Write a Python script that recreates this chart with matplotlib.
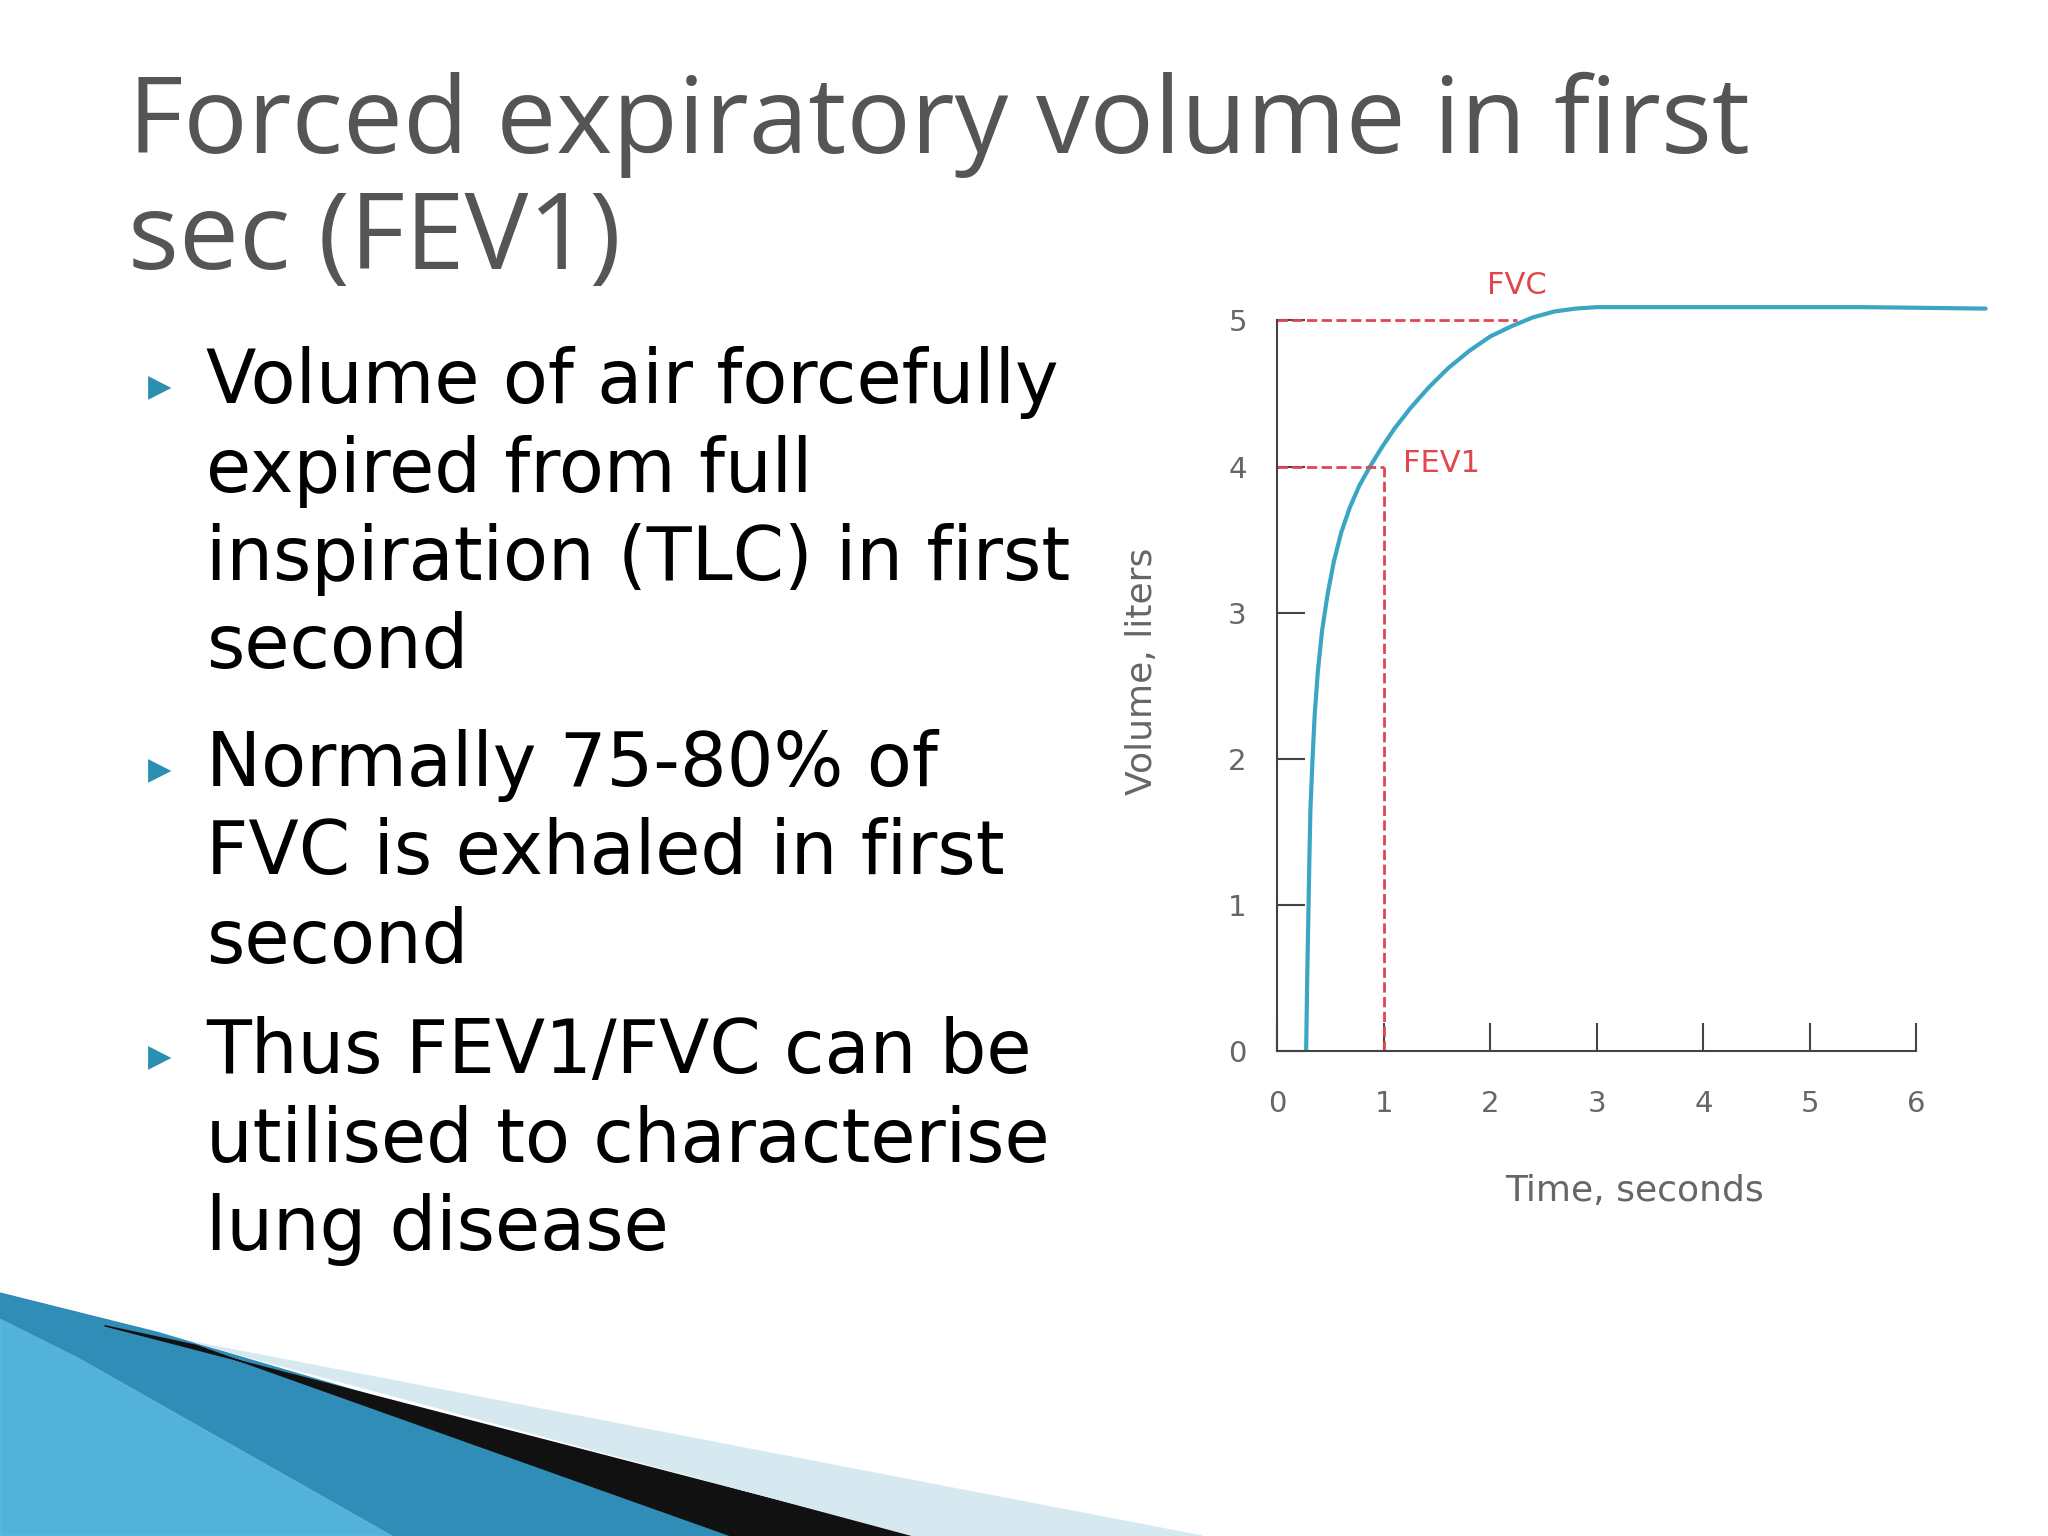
import matplotlib
matplotlib.use("Agg")
import matplotlib.pyplot as plt
from matplotlib.patches import Polygon

# spirometry curve
time_s = [0.27, 0.28, 0.29, 0.30, 0.31, 0.33, 0.35, 0.38, 0.42, 0.47, 0.53, 0.60, 0.68, 0.77, 0.87, 0.98,
          1.10, 1.25, 1.42, 1.60, 1.80, 2.00, 2.20, 2.40, 2.60, 2.80, 3.00, 3.5, 4.5, 5.5, 6.65]
volume_l = [0.0, 0.5, 0.9, 1.3, 1.65, 2.0, 2.3, 2.6, 2.88, 3.12, 3.35, 3.55, 3.72, 3.87, 4.0, 4.13,
            4.26, 4.4, 4.54, 4.67, 4.79, 4.89, 4.96, 5.02, 5.06, 5.08, 5.09, 5.09, 5.09, 5.09, 5.08]
fev1_t, fev1_v = 1.0, 4.0
fvc_t, fvc_v = 2.25, 5.0
x_ticks = [0, 1, 2, 3, 4, 5, 6]
y_ticks = [0, 1, 2, 3, 4, 5]

title = "Forced expiratory volume in first\nsec (FEV1)"
bullets = [
    "Volume of air forcefully\nexpired from full\ninspiration (TLC) in first\nsecond",
    "Normally 75-80% of\nFVC is exhaled in first\nsecond",
    "Thus FEV1/FVC can be\nutilised to characterise\nlung disease",
]
bullet_top = [265, 558, 778]

W, H = 1568, 1176
fig = plt.figure(figsize=(20.48, 15.36), dpi=100)

# decorative swoosh bottom-left
bg = fig.add_axes([0, 0, 1, 1], zorder=0)
bg.set_xlim(0, W); bg.set_ylim(H, 0); bg.axis("off")
bg.add_patch(Polygon([(0, 990), (120, 1020), (650, 1176), (0, 1176)], color="#2f8db8"))
bg.add_patch(Polygon([(0, 1010), (60, 1040), (300, 1176), (0, 1176)], color="#5bbce0", alpha=0.8))
bg.add_patch(Polygon([(80, 1015), (700, 1176), (560, 1176), (150, 1030)], color="#111111"))
bg.add_patch(Polygon([(150, 1028), (920, 1176), (700, 1176)], color="#d6e8f0"))

fig.text(98 / W, 1 - 140 / H, title, fontsize=77, color="#555555", family="Open Sans",
         va="center", ha="left", linespacing=1.12)
for txt, top in zip(bullets, bullet_top):
    fig.text(158 / W, 1 - top / H, txt, fontsize=53, color="black", family="DejaVu Sans",
             va="top", ha="left", linespacing=1.27)
    fig.text(113 / W, 1 - (top + 32) / H, "\u25B6", fontsize=22, color="#2a8fb0", va="center", ha="left")

ax = fig.add_axes([978 / W, 1 - 805 / H, 0.312 * 6.7 / 6, 0.476 * 5.2 / 5])
ax.set_xlim(0, 6.7)
ax.set_ylim(0, 5.2)
ax.plot(time_s, volume_l, color="#3aa6c4", lw=3, solid_capstyle="round")
red = "#e0474c"
ax.plot([0, fvc_t], [fvc_v, fvc_v], ls="--", color=red, lw=2)
ax.plot([0, fev1_t], [fev1_v, fev1_v], ls="--", color=red, lw=2)
ax.plot([fev1_t, fev1_t], [0, fev1_v], ls="--", color=red, lw=2)
ax.text(fvc_t, fvc_v + 0.14, "FVC", color=red, fontsize=22, ha="center", va="bottom")
ax.text(fev1_t + 0.18, fev1_v + 0.02, "FEV1", color=red, fontsize=22, ha="left", va="center")

for s in ["top", "right"]:
    ax.spines[s].set_visible(False)
ax.spines["left"].set_bounds(0, 5)
ax.spines["bottom"].set_bounds(0, 6)
for s in ["left", "bottom"]:
    ax.spines[s].set_color("#444444")
    ax.spines[s].set_linewidth(1.5)
ax.set_xticks(x_ticks)
ax.set_yticks(y_ticks)
ax.tick_params(direction="in", length=20, width=1.5, colors="#444444", labelsize=21, labelcolor="#666666")
ax.tick_params(axis="x", pad=28)
ax.tick_params(axis="y", pad=22)
ax.set_xlabel("Time, seconds", fontsize=26, color="#666666", labelpad=40)
ax.set_ylabel("Volume, liters", fontsize=26, color="#666666", labelpad=50)
ax.patch.set_alpha(0)

fig.savefig("out.png", dpi=100)
